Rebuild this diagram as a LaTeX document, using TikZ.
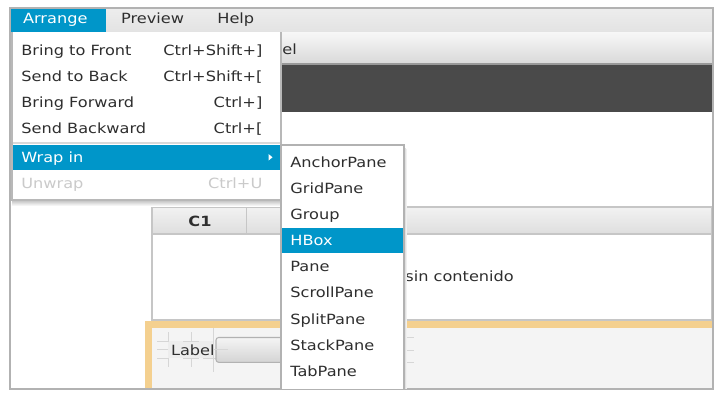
\documentclass[tikz,border=0pt]{standalone}
\usepackage{fontspec}
\setmainfont{DejaVu Sans}[FakeStretch=1.15]
\definecolor{fxblue}{HTML}{0096C9}
\definecolor{fxtext}{HTML}{2E2E2E}
\definecolor{fxgrey}{HTML}{C6C6C6}
\definecolor{fxfaint}{HTML}{CACACA}
\definecolor{fxdark}{HTML}{4A4A4A}
\definecolor{fxorange}{HTML}{F4D08F}
\definecolor{fxpanel}{HTML}{F4F4F4}
\tikzset{
	menutext/.style={anchor=base west, inner sep=0pt, text=fxtext, font=\fontsize{8}{10}\selectfont},
	keytext/.style={anchor=base east, inner sep=0pt, text=fxtext, font=\fontsize{8}{10}\selectfont},
	guide/.style={black!16, line width=0.5pt}
}

\begin{document}
\begin{tikzpicture}[x=0.02cm, y=-0.02cm]
				\useasboundingbox (0,0) rectangle (725,403);
				\fill[white] (0,0) rectangle (725,403);
				
				\shade[top color=black!7, bottom color=black!11] (10,8) rectangle (713,32);
				\shade[top color=black!3, bottom color=black!15] (10,32) rectangle (713,64);
				\fill[fxdark] (10,64) rectangle (713,112);
				\draw[black!40, line width=0.6pt] (10,64) -- (713,64);
				\node[menutext] (toolel) at (282,54.3) {el};
				
				\fill[fxblue] (10,8) rectangle (106,32);
				\node[menutext, text=white] (arrange) at (22.7,23.5) {Arrange};
				\node[menutext] (preview) at (120.7,23.5) {Preview};
				\node[menutext] (help) at (217,23.5) {Help};
				
				\shade[top color=black!5, bottom color=black!13, draw=fxgrey, line width=1.2pt] (152,207) rectangle (712,234);
				\fill[white] (153,235) rectangle (711,319);
				\draw[fxgrey, line width=1.2pt] (152,207) rectangle (712,320);
				\draw[fxgrey, line width=0.6pt] (246.7,207) -- (246.7,234);
				\node[anchor=base, inner sep=0pt, text=fxtext, font=\fontsize{8}{10}\selectfont\bfseries] (colone) at (200,226.7) {C1};
				\node[menutext] (empty) at (405,281.7) {sin contenido};
				
				\fill[fxorange] (145,321) rectangle (713,389);
				\fill[fxpanel] (152,328) rectangle (712,389);
				\fill[black!7] (168,341) rectangle (213,358);
				\node[menutext] (label) at (170.7,355) {Label};
				\draw[guide] (157,341) -- (168,341) -- (168,332);
				\draw[guide] (183,341) -- (199,341) (191,332) -- (191,341);
				\draw[guide] (157,349.5) -- (168,349.5);
				\draw[guide] (157,358) -- (168,358) -- (168,367);
				\draw[guide] (183,358) -- (199,358) (191,358) -- (191,367);
				\draw[guide] (203,358) -- (225,358) (213.5,328) -- (213.5,372);
				\shade[top color=black!4, bottom color=black!17, draw=black!30, rounded corners=1.5pt, line width=0.6pt] (216,337.5) rectangle (330,362.3);
				\draw[guide] (213,349.5) -- (228,349.5);
				\draw[guide] (395,337.5) -- (414,337.5);
				\draw[guide] (395,350) -- (414,350);
				\draw[guide] (395,362.5) -- (414,362.5);
				
				\draw[black!30, line width=0.6pt] (10,8) rectangle (713,389);
				
				\shade[top color=black!25, bottom color=white] (12,200) rectangle (282,206);
				\fill[white] (12,32) rectangle (281,200);
				\draw[black!28, line width=0.6pt] (12,32) -- (12,200) -- (281,200) -- (281,32);
				\node[menutext] (tofront) at (21,55.7) {Bring to Front};
				\node[keytext] (tofrontkey) at (262.7,55.7) {Ctrl+Shift+]};
				\node[menutext] (toback) at (21,81.7) {Send to Back};
				\node[keytext] (tobackkey) at (262.7,81.7) {Ctrl+Shift+[};
				\node[menutext] (forward) at (21,107.5) {Bring Forward};
				\node[keytext] (forwardkey) at (262.7,107.5) {Ctrl+]};
				\node[menutext] (backward) at (21,133.3) {Send Backward};
				\node[keytext] (backwardkey) at (262.7,133.3) {Ctrl+[};
				\draw[black!15, line width=0.6pt] (13,143) -- (280,143);
				\fill[fxblue] (13,145) rectangle (280,170);
				\node[menutext, text=white] (wrapin) at (21,162.7) {Wrap in};
				\fill[white] (268.5,154) -- (272.5,157.3) -- (268.5,160.6) -- cycle;
				\node[menutext, text=fxfaint] (unwrap) at (21,188.7) {Unwrap};
				\node[keytext, text=fxfaint] (unwrapkey) at (262.7,188.7) {Ctrl+U};
				
				\draw[black!12, line width=0.6pt] (405.5,148) -- (405.5,389);
				\draw[black!6, line width=0.6pt] (406.5,149) -- (406.5,389);
				\fill[white] (281,145) rectangle (404,389);
				\draw[black!30, line width=0.6pt] (281,389) -- (281,145) -- (404,145) -- (404,389);
				\fill[fxblue] (282,227.7) rectangle (403,253.3);
				\node[menutext] (anchorpane) at (290,167.7) {AnchorPane};
				\node[menutext] (gridpane) at (290,193.8) {GridPane};
				\node[menutext] (group) at (290,219.8) {Group};
				\node[menutext, text=white] (hbox) at (290,245.8) {HBox};
				\node[menutext] (pane) at (290,271.9) {Pane};
				\node[menutext] (scrollpane) at (290,297.9) {ScrollPane};
				\node[menutext] (splitpane) at (290,324) {SplitPane};
				\node[menutext] (stackpane) at (290,350) {StackPane};
				\node[menutext] (tabpane) at (290,376) {TabPane};
			\end{tikzpicture}
\end{document}
